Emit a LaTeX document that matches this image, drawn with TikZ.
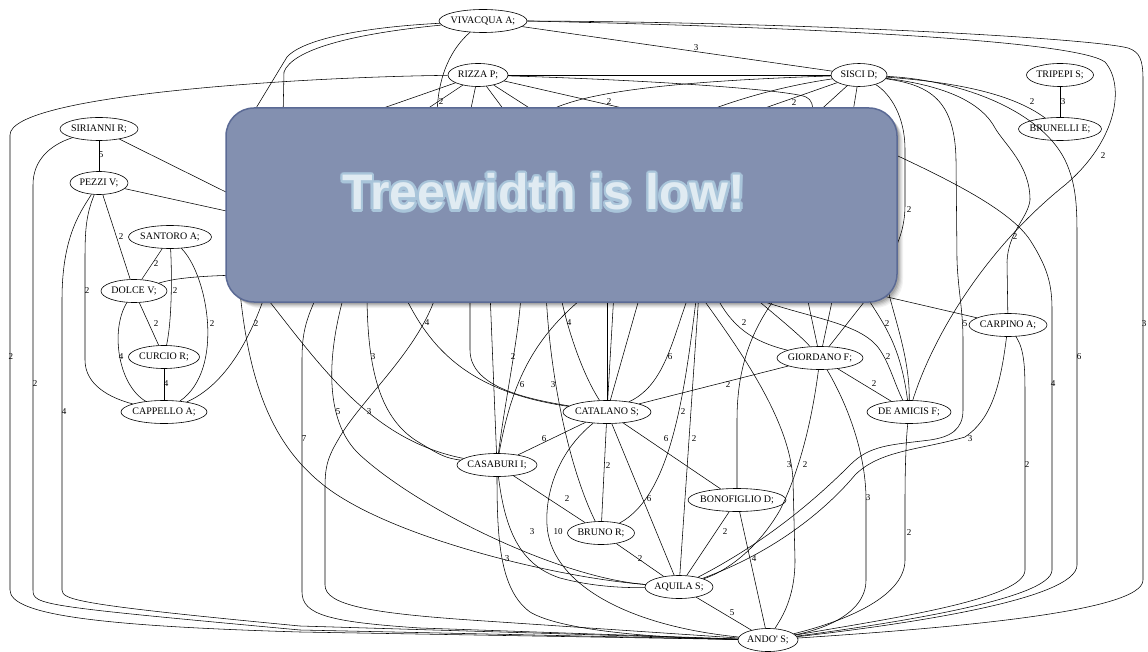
\documentclass[tikz,border=0pt]{standalone}
\usepackage{fontspec}
\setmainfont{Liberation Serif}
\newfontfamily\titlefont{Liberation Sans}
\usetikzlibrary{shapes.geometric,calc}
\definecolor{boxfill}{HTML}{8390B0}
\definecolor{boxedge}{HTML}{5B6A95}
\definecolor{ttfill}{HTML}{E0EBF2}
\definecolor{ttline}{HTML}{A9C5DA}
\begin{document}
\begin{tikzpicture}[x=1pt,y=-1pt,
  gn/.style={draw, ellipse, inner sep=0pt, line width=0.6pt, minimum height=23pt, font=\fontsize{10}{12}\selectfont},
  lbl/.style={inner sep=0pt, font=\fontsize{9}{10}\selectfont},
  ed/.style={line width=0.55pt},
  ttl/.style={anchor=base, inner sep=0pt, font=\titlefont\bfseries\fontsize{50}{60}\selectfont}]
\useasboundingbox (0,0) rectangle (1148,652);
% nodes
\node[gn, minimum width=88pt] (viv) at (483,21) {\makebox[0pt]{VIVACQUA A;}};
\node[gn, minimum width=60pt] (rizza) at (478,75) {\makebox[0pt]{RIZZA P;}};
\node[gn, minimum width=56pt] (sisci) at (859,75) {\makebox[0pt]{SISCI D;}};
\node[gn, minimum width=67pt] (tripepi) at (1060,75) {\makebox[0pt]{TRIPEPI S;}};
\node[gn, minimum width=83pt] (brunelli) at (1060,129) {\makebox[0pt]{BRUNELLI E;}};
\node[gn, minimum width=78pt] (sirianni) at (99,129) {\makebox[0pt]{SIRIANNI R;}};
\node[gn, minimum width=58pt] (pezzi) at (99,183) {\makebox[0pt]{PEZZI V;}};
\node[gn, minimum width=83pt] (santoro) at (170,237) {\makebox[0pt]{SANTORO A;}};
\node[gn, minimum width=66pt] (dolce) at (134,291) {\makebox[0pt]{DOLCE V;}};
\node[gn, minimum width=71pt] (curcio) at (164,357) {\makebox[0pt]{CURCIO R;}};
\node[gn, minimum width=86pt] (cappello) at (164,412) {\makebox[0pt]{CAPPELLO A;}};
\node[gn, minimum width=78pt] (carpino) at (1008,325) {\makebox[0pt]{CARPINO A;}};
\node[gn, minimum width=86pt] (giordano) at (820,358) {\makebox[0pt]{GIORDANO F;}};
\node[gn, minimum width=84pt] (deamicis) at (909,412) {\makebox[0pt]{DE AMICIS F;}};
\node[gn, minimum width=88pt] (catalano) at (607,412) {\makebox[0pt]{CATALANO S;}};
\node[gn, minimum width=80pt] (casaburi) at (497,465) {\makebox[0pt]{CASABURI I;}};
\node[gn, minimum width=98pt] (bonofiglio) at (737,500) {\makebox[0pt]{BONOFIGLIO D;}};
\node[gn, minimum width=67pt] (bruno) at (601,533) {\makebox[0pt]{BRUNO R;}};
\node[gn, minimum width=68pt] (aquila) at (679,587) {\makebox[0pt]{AQUILA S;}};
\node[gn, minimum width=60pt] (ando) at (768,640) {\makebox[0pt]{ANDO\textquotesingle\ S;}};
% hidden ends (under the box)
\coordinate (tA) at (250,118); \coordinate (tB) at (283,118); \coordinate (tC) at (437,118);
\coordinate (tD) at (372,112); \coordinate (tE) at (418,115); \coordinate (tF) at (469,118);
\coordinate (tG) at (510,118); \coordinate (tH) at (545,118); \coordinate (tI) at (640,112);
\coordinate (tJ) at (538,118); \coordinate (tK) at (690,118); \coordinate (tL) at (813,118);
\coordinate (tM) at (745,115); \coordinate (tN) at (815,115); \coordinate (tO) at (852,118);
\coordinate (lA) at (240,199); \coordinate (lB) at (240,214); \coordinate (lC) at (240,275);
\coordinate (rA) at (888,262); \coordinate (rB) at (885,150); \coordinate (rC) at (870,293);
\coordinate (bA) at (266,292); \coordinate (bB) at (240,292); \coordinate (bC) at (345,292);
\coordinate (bD) at (262,292); \coordinate (bE) at (319,292); \coordinate (bF) at (437,292);
\coordinate (bG) at (367,292); \coordinate (bH) at (403,292); \coordinate (bI) at (470,292);
\coordinate (bJ) at (490,292); \coordinate (bK) at (521,292); \coordinate (bL) at (590,292);
\coordinate (bM) at (546,292); \coordinate (bN) at (560,292); \coordinate (bO) at (607,292);
\coordinate (bP) at (614,292); \coordinate (bQ) at (641,292); \coordinate (bR) at (690,292);
\coordinate (bS) at (697,292); \coordinate (bT) at (699,292); \coordinate (bU) at (698,292);
\coordinate (bV) at (714,292); \coordinate (bW) at (738,292); \coordinate (bX) at (748,292);
\coordinate (bY) at (780,292); \coordinate (bZ) at (806,292); \coordinate (b2) at (834,292);
\coordinate (b3) at (872,292); \coordinate (b4) at (864,292); \coordinate (b5) at (888,290);
% top edges
\draw[ed] (viv) -- (sisci);
\draw[ed] (viv.east) .. controls (800,22) and (1090,38) .. (1128,48) .. controls (1140,52) and (1143,60) .. (1143,80) -- (1143,580) .. controls (1143,612) and (950,628) .. (ando);
\draw[ed] (viv.east) .. controls (800,27) and (1075,40) .. (1105,62) .. controls (1125,85) and (1118,140) .. (1065,185) .. controls (990,245) and (935,330) .. (deamicis);
\draw[ed] (viv) .. controls (350,28) and (300,42) .. (287,57) -- (tA);
\draw[ed] (viv) .. controls (350,34) and (292,50) .. (284,72) -- (tB);
\draw[ed] (viv) .. controls (452,48) and (437,75) .. (tC);
\draw[ed] (rizza) -- (sisci);
\draw[ed] (rizza) .. controls (300,77) and (10,95) .. (10,135) -- (10,590) .. controls (10,615) and (100,626) .. (300,632) -- (ando);
\foreach \t in {tD,tE,tF,tG,tH,tI} \draw[ed] (rizza) -- (\t);
\draw[ed] (rizza) .. controls (650,80) and (790,90) .. (806,97) .. controls (812,100) and (813,104) .. (tL);
\draw[ed] (tJ) .. controls (565,95) and (650,82) .. (sisci);
\draw[ed] (tK) .. controls (740,97) and (790,85) .. (sisci);
\draw[ed] (tM) -- (sisci);
\draw[ed] (sisci) -- (tN);
\draw[ed] (sisci) -- (tO);
\draw[ed] (sisci) .. controls (885,90) and (905,110) .. (905,150) -- (905,205) .. controls (905,228) and (898,245) .. (rA);
\draw[ed] (sisci) .. controls (930,85) and (955,100) .. (956,160) -- (957,260) .. controls (958,290) and (963,310) .. (963,340) -- (963,410) .. controls (963,430) and (950,437) .. (930,440) .. controls (890,445) and (870,445) .. (850,465) .. controls (820,495) and (770,540) .. (aquila);
\draw[ed] (sisci) .. controls (940,85) and (980,100) .. (995,128) .. controls (1005,145) and (1030,165) .. (1030,200) .. controls (1028,218) and (1008,232) .. (1007,262) -- (carpino);
\draw[ed] (sisci) .. controls (960,80) and (1040,110) .. (1065,160) .. controls (1077,185) and (1077,210) .. (1077,240) -- (1077,565) .. controls (1077,600) and (900,625) .. (ando);
\draw[ed] (sisci) .. controls (950,82) and (1010,92) .. (brunelli);
\draw[ed] (tripepi) -- (brunelli);
\draw[ed] (rB) .. controls (950,180) and (1010,210) .. (1030,240) .. controls (1048,268) and (1052,285) .. (1052,310) -- (1052,570) .. controls (1052,600) and (880,625) .. (ando);
% left cluster
\draw[ed] (sirianni) -- (pezzi);
\draw[ed] (sirianni) .. controls (50,145) and (33,160) .. (33,185) -- (33,590) .. controls (33,605) and (40,606) .. (300,630) -- (ando);
\draw[ed] (sirianni) -- (lA);
\draw[ed] (pezzi) -- (lB);
\draw[ed] (pezzi) .. controls (78,215) and (62,240) .. (62,300) -- (62,590) .. controls (62,600) and (80,605) .. (300,626) -- (ando);
\draw[ed] (pezzi) .. controls (86,215) and (85,230) .. (85,260) -- (85,360) .. controls (85,385) and (110,398) .. (cappello);
\draw[ed] (pezzi) -- (dolce);
\draw[ed] (santoro) -- (dolce);
\draw[ed] (santoro) .. controls (172,275) and (172,320) .. (curcio);
\draw[ed] (santoro) .. controls (208,275) and (225,370) .. (cappello);
\draw[ed] (dolce) -- (curcio);
\draw[ed] (dolce) .. controls (110,330) and (118,385) .. (cappello);
\draw[ed] (curcio) -- (cappello);
\draw[ed] (dolce) .. controls (175,278) and (200,276) .. (lC);
\draw[ed] (cappello) .. controls (225,385) and (250,340) .. (bA);
% edges from under the box, left part
\draw[ed] (bB) .. controls (250,390) and (275,450) .. (330,490) .. controls (400,540) and (560,578) .. (aquila);
\draw[ed] (bC) .. controls (328,350) and (322,420) .. (360,455) .. controls (420,510) and (560,578) .. (aquila);
\draw[ed] (bD) .. controls (320,365) and (370,440) .. (casaburi);
\draw[ed] (bE) .. controls (305,320) and (302,335) .. (302,360) -- (302,592) .. controls (302,615) and (330,622) .. (420,628) -- (ando);
\draw[ed] (bF) .. controls (420,350) and (360,400) .. (338,440) .. controls (326,460) and (325,470) .. (325,490) -- (325,585) .. controls (325,605) and (370,613) .. (470,620) -- (ando);
\draw[ed] (bG) .. controls (367,370) and (380,420) .. (420,443) .. controls (440,455) and (445,458) .. (casaburi);
\draw[ed] (bH) .. controls (430,350) and (470,392) .. (catalano);
\draw[ed] (bI) -- (470,350) .. controls (470,385) and (520,398) .. (catalano);
\draw[ed] (bJ) -- (casaburi);
\draw[ed] (bK) .. controls (520,330) and (505,400) .. (casaburi);
\draw[ed] (bL) .. controls (535,335) and (512,380) .. (casaburi);
\draw[ed] (bM) .. controls (550,380) and (570,470) .. (bruno);
\draw[ed] (bN) .. controls (565,320) and (580,370) .. (catalano);
\draw[ed] (bO) -- (catalano);
\draw[ed] (bP) -- (catalano);
\draw[ed] (bQ) -- (catalano);
\draw[ed] (bR) .. controls (672,340) and (665,385) .. (catalano);
\draw[ed] (bS) .. controls (685,390) and (672,495) .. (bruno);
\draw[ed] (bT) -- (aquila);
\draw[ed] (bU) .. controls (740,350) and (790,420) .. (793,480) -- (795,560) .. controls (795,600) and (780,620) .. (ando);
% right part
\draw[ed] (rC) -- (carpino);
\draw[ed] (bV) .. controls (728,320) and (745,340) .. (giordano);
\draw[ed] (bX) .. controls (775,315) and (800,335) .. (giordano);
\draw[ed] (bZ) -- (giordano);
\draw[ed] (b2) -- (giordano);
\draw[ed] (b3) -- (giordano);
\draw[ed] (bW) .. controls (800,318) and (860,320) .. (880,350) .. controls (890,365) and (895,385) .. (deamicis);
\draw[ed] (b4) .. controls (880,320) and (900,340) .. (deamicis);
\draw[ed] (b5) .. controls (895,320) and (910,360) .. (deamicis);
\draw[ed] (bY) .. controls (750,330) and (737,370) .. (737,420) -- (bonofiglio);
\draw[ed] (catalano) -- (giordano);
\draw[ed] (giordano) -- (deamicis);
\draw[ed] (giordano) .. controls (812,420) and (800,470) .. (780,510) .. controls (760,545) and (730,570) .. (aquila);
\draw[ed] (giordano) .. controls (845,400) and (866,450) .. (866,500) -- (866,580) .. controls (866,615) and (820,630) .. (ando);
\draw[ed] (deamicis) .. controls (906,440) and (905,470) .. (905,500) -- (905,560) .. controls (905,595) and (850,620) .. (ando);
\draw[ed] (carpino) .. controls (1025,350) and (1025,370) .. (1025,400) -- (1025,570) .. controls (1025,600) and (880,620) .. (ando);
\draw[ed] (carpino) .. controls (1000,390) and (990,420) .. (965,437) .. controls (920,450) and (880,450) .. (855,475) .. controls (830,505) and (780,550) .. (aquila);
% lower cluster
\draw[ed] (catalano) -- (casaburi);
\draw[ed] (catalano) -- (bruno);
\draw[ed] (catalano) -- (aquila);
\draw[ed] (catalano) -- (bonofiglio);
\draw[ed] (catalano) .. controls (560,450) and (545,490) .. (547,525) .. controls (550,580) and (620,625) .. (ando);
\draw[ed] (casaburi) -- (bruno);
\draw[ed] (casaburi) .. controls (505,530) and (520,565) .. (560,578) .. controls (590,586) and (620,588) .. (aquila);
\draw[ed] (casaburi) .. controls (497,540) and (500,590) .. (530,612) .. controls (560,630) and (650,638) .. (ando);
\draw[ed] (bruno) -- (aquila);
\draw[ed] (bonofiglio) -- (aquila);
\draw[ed] (bonofiglio) -- (ando);
\draw[ed] (aquila) -- (ando);
% edge labels
\foreach \n/\t/\p in {1/3/{(696,48)},2/2/{(441,102)},3/2/{(609,102)},4/2/{(794,103)},5/2/{(1032,102)},6/3/{(1063,102)},7/2/{(1103,156)},8/2/{(909,210)},9/5/{(101,155)},10/2/{(121,237)},11/2/{(156,264)},12/2/{(175,291)},13/2/{(87,291)},14/2/{(156,324)},15/2/{(212,324)},16/2/{(256,324)},17/4/{(121,357)},18/4/{(166,384)},19/2/{(11,357)},20/2/{(35,384)},21/4/{(64,412)},22/3/{(373,357)},23/5/{(338,412)},24/3/{(369,412)},25/7/{(304,439)},26/4/{(427,323)},27/2/{(513,357)},28/6/{(522,385)},29/3/{(553,385)},30/4/{(569,323)},31/6/{(670,357)},32/2/{(744,323)},33/2/{(728,385)},34/2/{(683,412)},35/6/{(544,439)},36/6/{(666,439)},37/2/{(694,439)},38/2/{(608,466)},39/2/{(887,324)},40/2/{(888,357)},41/2/{(874,384)},42/5/{(965,324)},43/2/{(1015,237)},44/6/{(1079,357)},45/4/{(1053,384)},46/3/{(1144,324)},47/2/{(567,499)},48/6/{(649,499)},49/3/{(532,532)},50/10/{(558,532)},51/3/{(507,559)},52/2/{(640,559)},53/2/{(725,532)},54/4/{(754,559)},55/5/{(732,613)},56/3/{(789,465)},57/2/{(805,465)},58/3/{(868,498)},59/2/{(909,533)},60/3/{(970,439)},61/2/{(1027,465)}}
  \node[lbl] (l\n) at \p {\t};
% overlay box with shadow
\foreach \o/\a in {6/0.05,5/0.06,4/0.08,3/0.1,2/0.12}
  \fill[black, opacity=\a, rounded corners=28pt] (226+\o,108+\o) rectangle (897+\o,302+\o);
\draw[boxedge, fill=boxfill, line width=1.5pt, rounded corners=28pt] (226,108) rectangle (897,302);
\foreach \a in {0,30,...,330}
  \node[ttl, text=ttline] (sh\a) at ($(544,210)+(\a:2.4)$) {Treewidth is low!};
\node[ttl, text=ttfill] (title) at (544,210) {Treewidth is low!};
\end{tikzpicture}
\end{document}
